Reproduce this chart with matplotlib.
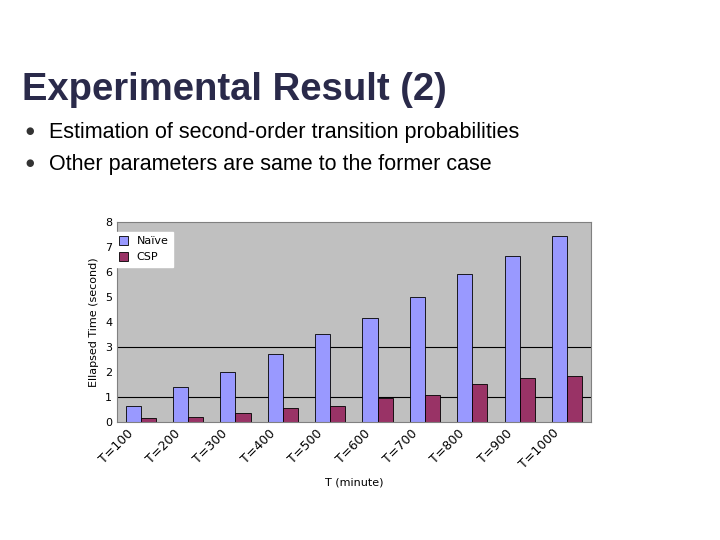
import numpy as np
import matplotlib.pyplot as plt

labels = ['T=100', 'T=200', 'T=300', 'T=400', 'T=500', 'T=600', 'T=700', 'T=800', 'T=900', 'T=1000']
naive = [0.65, 1.4, 2.0, 2.7, 3.5, 4.15, 5.0, 5.9, 6.65, 7.45]
csp = [0.15, 0.2, 0.35, 0.55, 0.65, 0.95, 1.1, 1.5, 1.75, 1.85]

fig = plt.figure(figsize=(7.2, 5.4), dpi=100)
fig.text(0.03, 0.815, 'Experimental Result (2)', fontsize=27.5, fontweight='bold', color='#2a2a4a', family='Liberation Sans')
fig.text(0.036, 0.752, '\u25cf', fontsize=7, color='#333333')
fig.text(0.068, 0.745, 'Estimation of second-order transition probabilities', fontsize=15.5, family='Liberation Sans')
fig.text(0.036, 0.692, '\u25cf', fontsize=7, color='#333333')
fig.text(0.068, 0.685, 'Other parameters are same to the former case', fontsize=15.5, family='Liberation Sans')

ax = fig.add_axes([0.1625, 0.2185, 0.658, 0.3705])
x = np.arange(len(labels))
w = 0.32
ax.set_facecolor('#c0c0c0')
ax.bar(x - w / 2, naive, w, color='#9999ff', edgecolor='black', linewidth=0.6, label='Naïve')
ax.bar(x + w / 2, csp, w, color='#993366', edgecolor='black', linewidth=0.6, label='CSP')
for yv in [1, 3]:
    ax.axhline(yv, color='black', linewidth=0.8, zorder=0)
ax.set_xlim(-0.5, 9.5)
ax.set_ylim(0, 8)
ax.set_yticks(range(9))
ax.set_yticklabels(['0', '1', '2', '3', '4', '5', '6', '7', '8'], fontsize=8)
ax.set_xticks(x - 0.3)
ax.set_xticklabels(labels, rotation=45, fontsize=9, ha='right', rotation_mode='anchor')
ax.tick_params(length=0)
for s in ax.spines.values():
    s.set_color('#808080')
ax.set_ylabel('Ellapsed Time (second)', fontsize=8)
ax.set_xlabel('T (minute)', fontsize=8)
leg = ax.legend(loc='upper left', bbox_to_anchor=(-0.005, 0.95), fontsize=8, frameon=True, fancybox=False,
                edgecolor='white', framealpha=1, handlelength=0.8, handleheight=0.8, borderaxespad=0)
fig.savefig('out.png')
